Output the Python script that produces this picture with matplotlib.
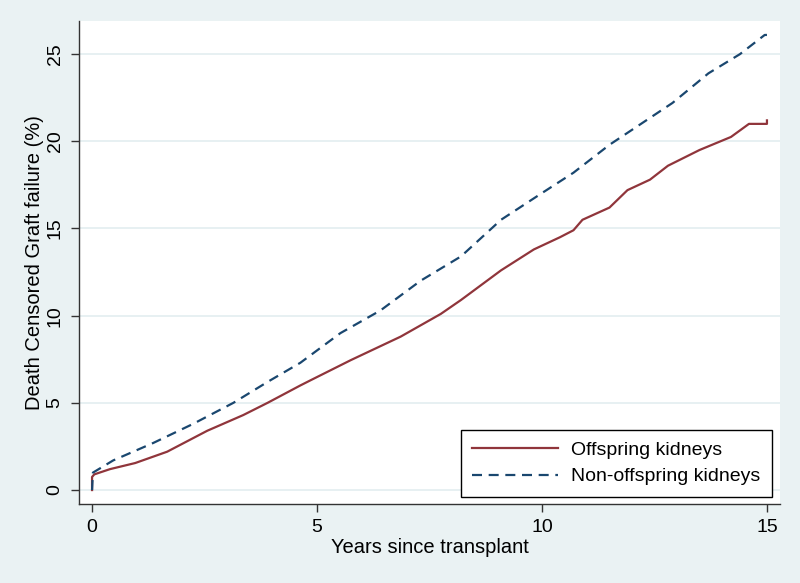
import matplotlib.pyplot as plt

plt.rcParams['font.family'] = ['Liberation Sans', 'DejaVu Sans']

# Offspring kidneys (solid maroon)
off_years = [0.0, 0.0, 0.05, 0.4, 0.96, 1.67, 2.56, 3.36, 3.9, 4.63, 4.86, 5.75, 6.86,
             7.75, 8.2, 9.09, 9.82, 10.4, 10.7, 10.9, 11.5, 11.9, 12.4, 12.8, 13.5,
             14.2, 14.6, 15.0, 15.0]
off_fail = [0.0, 0.75, 0.9, 1.2, 1.55, 2.2, 3.4, 4.3, 5.0, 6.0, 6.3, 7.45, 8.8,
            10.1, 10.9, 12.6, 13.8, 14.5, 14.9, 15.5, 16.2, 17.2, 17.8, 18.6, 19.5,
            20.25, 21.0, 21.0, 21.2]

# Non-offspring kidneys (dashed navy)
non_years = [0.0, 0.02, 0.47, 1.36, 2.25, 3.14, 3.9, 4.63, 5.52, 6.41, 7.3, 8.2,
             9.09, 9.98, 10.7, 11.5, 12.2, 12.9, 13.7, 14.4, 14.95, 15.0]
non_fail = [0.0, 1.0, 1.7, 2.7, 3.8, 5.0, 6.2, 7.3, 9.0, 10.3, 12.0, 13.4,
            15.5, 17.0, 18.2, 19.8, 21.0, 22.2, 23.9, 25.0, 26.1, 26.1]

x_ticks = [0, 5, 10, 15]
y_ticks = [0, 5, 10, 15, 20, 25]

bg = '#EAF2F3'
axis_col = '#333333'

fig = plt.figure(figsize=(8, 5.83), dpi=100, facecolor=bg)
ax = fig.add_axes([79 / 800, 79 / 583, 701 / 800, 483 / 583])
ax.set_facecolor('white')

ax.plot(off_years, off_fail, color='#90353B', lw=1.6, label='Offspring kidneys')
ax.plot(non_years, non_fail, color='#1A476F', lw=1.6, dashes=(4.5, 3),
        label='Non-offspring kidneys')

ax.set_xlim(-0.29, 15.29)
ax.set_ylim(-0.8, 26.9)
ax.set_xticks(x_ticks)
ax.set_yticks(y_ticks)
ax.set_yticklabels([str(v) for v in y_ticks], rotation=90, va='center')
ax.tick_params(axis='both', direction='out', length=6, width=1, color=axis_col,
               labelsize=14, pad=5)
ax.grid(axis='y', color='#E3EDF0', lw=1.2)
ax.set_axisbelow(True)

for s in ['top', 'right']:
    ax.spines[s].set_visible(False)
for s in ['left', 'bottom']:
    ax.spines[s].set_color(axis_col)
    ax.spines[s].set_linewidth(1)

ax.set_xlabel('Years since transplant', fontsize=14.5, labelpad=1)
ax.set_ylabel('Death Censored Graft failure (%)', fontsize=14.5, labelpad=2)

leg = ax.legend(loc='lower right', bbox_to_anchor=(0.989, 0.0145), borderaxespad=0,
                fontsize=14, handlelength=4.4, handletextpad=0.7, fancybox=False,
                framealpha=1, edgecolor='black', borderpad=0.6, labelspacing=0.45)
leg.get_frame().set_linewidth(1)

fig.savefig('out.png', dpi=100, facecolor=bg)
